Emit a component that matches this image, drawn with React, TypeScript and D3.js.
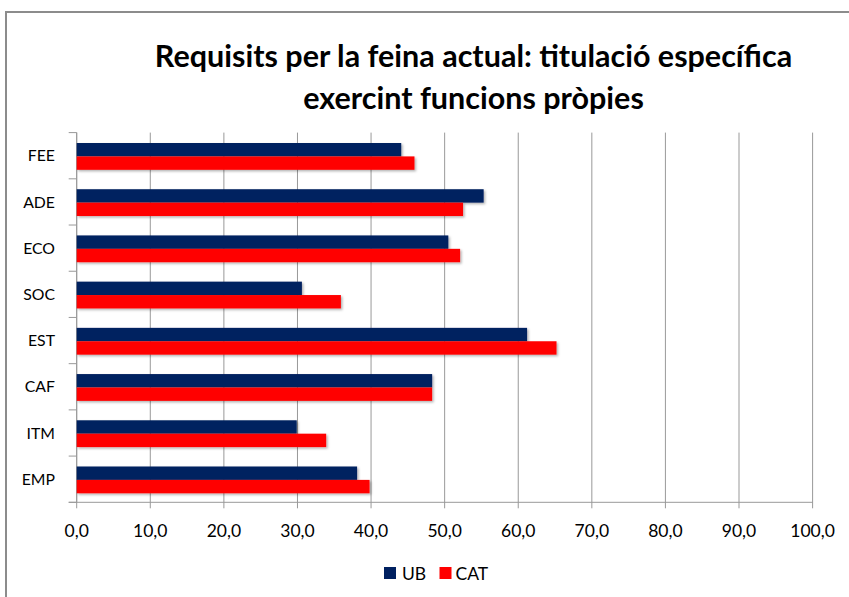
import React from "react";
import * as d3 from "d3";

const categories = ["FEE", "ADE", "ECO", "SOC", "EST", "CAF", "ITM", "EMP"];
const ubValues = [44.1, 55.3, 50.5, 30.6, 61.2, 48.3, 29.9, 38.1];
const catValues = [45.9, 52.5, 52.1, 35.9, 65.2, 48.3, 33.9, 39.8];
const seriesNames = ["UB", "CAT"];
const seriesColors = ["#002060", "#FF0000"];
const xTicks = [0, 10, 20, 30, 40, 50, 60, 70, 80, 90, 100];
const titleLines = ["Requisits per la feina actual: titulació específica", "exercint funcions pròpies"];

const W = 849;
const H = 597;
const FONT = "Lato, 'Open Sans', sans-serif";

export default function App() {
  const x = d3.scaleLinear().domain([0, 100]).range([76.7, 812.6]);
  const y = d3.scaleBand<string>().domain(categories).range([132.6, 502.3]).padding(0);
  const barH = 13.4;
  const fmt = (v: number) => d3.format(".1f")(v).replace(".", ",");
  const series = [ubValues, catValues];
  const x0 = x(0);
  const yBottom = y.range()[1];
  const yTop = y.range()[0];

  return (
    <div style={{ position: "fixed", left: 0, top: 0 }}>
      <svg width={W} height={H} style={{ display: "block" }} fontFamily={FONT}>
        <defs>
          <filter id="shadow" x="-5%" y="-30%" width="110%" height="180%">
            <feDropShadow dx="1.5" dy="1.5" stdDeviation="1.2" floodColor="#000" floodOpacity="0.3" />
          </filter>
        </defs>
        <rect x={0} y={0} width={W} height={H} fill="#fff" />
        <rect x={6} y={12} width={W + 20} height={H + 20} fill="#fff" stroke="#8c8c8c" strokeWidth={2} />

        {titleLines.map((t, i) => (
          <text key={i} x={473.5} y={67 + i * 41.6} textAnchor="middle" fontWeight="bold" fontSize={30.5} fill="#000">
            {t}
          </text>
        ))}

        {/* gridlines */}
        {xTicks.map((t) => (
          <line key={"g" + t} x1={x(t)} x2={x(t)} y1={yTop} y2={yBottom + 6} stroke="#999" strokeWidth={1} />
        ))}
        {/* category ticks */}
        {categories.concat(["_end"]).map((c, i) => {
          const yy = i < categories.length ? (y(c) as number) : yBottom;
          return <line key={"ct" + i} x1={x0 - 8} x2={x0} y1={yy} y2={yy} stroke="#999" strokeWidth={1} />;
        })}
        {/* axes */}
        <line x1={x0} x2={x0} y1={yTop} y2={yBottom} stroke="#999" strokeWidth={1} />
        <line x1={x0 - 8} x2={x(100)} y1={yBottom} y2={yBottom} stroke="#999" strokeWidth={1} />

        {/* bars */}
        {categories.map((c, i) => {
          const cy = (y(c) as number) + y.bandwidth() / 2 + 0.7;
          return (
            <g key={c}>
              {series.map((vals, s) => (
                <rect
                  key={s}
                  x={x0}
                  y={cy - barH + s * barH}
                  width={x(vals[i]) - x0}
                  height={barH}
                  fill={seriesColors[s]}
                  filter="url(#shadow)"
                />
              ))}
            </g>
          );
        })}

        {/* category labels */}
        {categories.map((c) => (
          <text key={"l" + c} x={55} y={(y(c) as number) + y.bandwidth() / 2 + 5.6} textAnchor="end" fontSize={15.8} fill="#000">
            {c}
          </text>
        ))}

        {/* x tick labels */}
        {xTicks.map((t) => (
          <text key={"t" + t} x={x(t)} y={536.5} textAnchor="middle" fontSize={17.5} fill="#000">
            {fmt(t)}
          </text>
        ))}

        {/* legend */}
        <rect x={384} y={567} width={12} height={12} fill={seriesColors[0]} />
        <text x={402} y={579.5} fontSize={17.5} fill="#000">{seriesNames[0]}</text>
        <rect x={439.5} y={567} width={12} height={12} fill={seriesColors[1]} />
        <text x={455.5} y={579.5} fontSize={17.5} fill="#000">{seriesNames[1]}</text>
      </svg>
    </div>
  );
}
